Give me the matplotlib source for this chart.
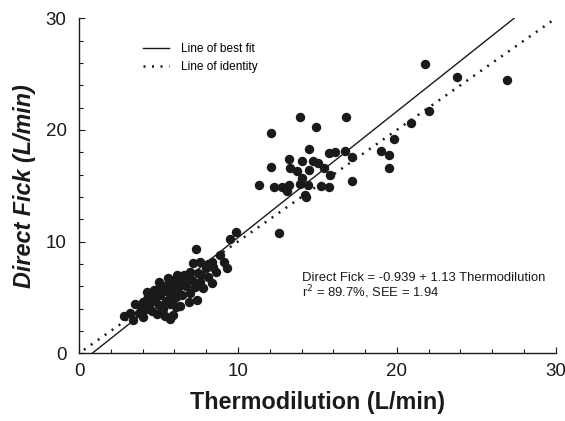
import matplotlib
matplotlib.use("Agg")
import matplotlib.pyplot as plt
import numpy as np
from matplotlib.ticker import MultipleLocator

plt.rcParams['font.family'] = ['Liberation Sans', 'DejaVu Sans']

# low cardiac output cluster
low_x = [2.8, 3.4, 3.5, 3.8, 4.0, 4.2, 4.26, 4.5, 4.6, 4.7, 4.8, 5.0, 5.0, 5.1, 5.2, 5.3,
         5.4, 5.5, 5.6, 5.7, 5.8, 5.9, 6.0, 6.1, 6.15, 6.3, 6.35, 6.5, 6.6, 6.7, 6.9, 7.0,
         7.1, 7.2, 7.36, 7.4, 7.5, 7.6, 7.6, 7.8, 8.0, 8.1, 8.35, 8.35, 8.6, 8.9, 9.1, 9.3,
         4.4, 5.3, 5.8, 6.2, 6.8, 5.6, 3.9, 4.9, 5.9, 6.4, 7.3, 8.4, 4.3, 5.2, 6.0, 3.2,
         9.5, 9.9, 4.6, 5.0, 5.5, 6.1, 6.6, 7.0, 7.7, 8.1, 4.0, 5.7]
low_y = [3.3, 3.0, 4.45, 3.6, 3.2, 4.0, 5.5, 4.6, 3.8, 5.7, 4.9, 6.4, 4.3, 5.2, 3.6, 5.9,
         3.3, 4.7, 5.5, 3.1, 6.2, 4.8, 5.6, 4.1, 7.0, 6.3, 4.2, 5.2, 7.0, 6.0, 4.6, 5.4,
         6.6, 8.06, 9.3, 4.8, 7.2, 6.4, 8.2, 5.8, 7.6, 6.8, 8.2, 6.27, 7.3, 8.8, 8.2, 7.6,
         4.3, 4.0, 5.1, 5.8, 6.8, 6.7, 4.1, 3.5, 3.4, 6.6, 5.9, 7.7, 4.9, 6.0, 6.6, 3.6,
         10.2, 10.9, 5.1, 5.8, 6.0, 5.0, 6.2, 7.3, 7.0, 8.0, 4.6, 4.4]

# high cardiac output cluster
high_x = [21.8, 23.8, 26.95, 22.0, 20.9, 19.8, 19.0, 19.5, 19.5, 17.2, 17.2, 16.75, 16.1,
          15.7, 16.8, 13.9, 14.9, 12.1, 14.5, 12.1, 11.3, 13.2, 14.0, 14.75, 15.05, 13.3,
          13.7, 14.5, 15.4, 15.8, 12.3, 12.75, 13.2, 13.1, 13.9, 14.4, 15.2, 15.7, 14.2,
          14.3, 14.0, 12.6]
high_y = [25.9, 24.7, 24.5, 21.7, 20.6, 19.2, 18.1, 17.75, 16.6, 15.45, 17.6, 18.1, 18.05,
          17.9, 21.15, 21.15, 20.3, 19.7, 18.3, 16.7, 15.1, 17.4, 17.25, 17.2, 17.0, 16.6,
          16.3, 16.4, 16.6, 16.0, 14.9, 14.9, 15.1, 14.5, 15.2, 15.1, 15.0, 14.9, 14.2,
          14.0, 15.7, 10.8]

intercept = -0.939
slope = 1.13

thermo = np.array(low_x + high_x)
fick = np.array(low_y + high_y)

fig = plt.figure(figsize=(5.65, 4.21), dpi=100)
ax = fig.add_axes([0.140, 0.161, 0.8435, 0.7955])

ax.plot(thermo, fick, 'o', color='#1a1a1a', markersize=6.8, markeredgewidth=0, zorder=3)

xfit = np.array([-intercept / slope, (30 - intercept) / slope])
ax.plot(xfit, intercept + slope * xfit, '-', color='#1a1a1a', lw=1.0, label='Line of best fit')
xid = np.array([0.3, 30])
ax.plot(xid, xid, color='#1a1a1a', lw=1.8, linestyle=(0, (0.8, 2.6)), label='Line of identity')

ax.set_xlim(0, 30)
ax.set_ylim(0, 30)
ax.xaxis.set_major_locator(MultipleLocator(10))
ax.yaxis.set_major_locator(MultipleLocator(10))
ax.xaxis.set_minor_locator(MultipleLocator(2))
ax.yaxis.set_minor_locator(MultipleLocator(2))
ax.tick_params(which='both', direction='in', width=0.8, labelsize=13.5, color='#1a1a1a',
               labelcolor='#1a1a1a')
ax.tick_params(which='major', length=4.5)
ax.tick_params(which='minor', length=3)
ax.tick_params(axis='x', pad=7)
ax.tick_params(axis='y', pad=9)
for s in ['top', 'right']:
    ax.spines[s].set_visible(False)
for s in ['left', 'bottom']:
    ax.spines[s].set_linewidth(1.0)
    ax.spines[s].set_color('#1a1a1a')

ax.set_xlabel('Thermodilution (L/min)', fontsize=16.8, fontweight='bold', color='#1a1a1a', labelpad=8)
ax.set_ylabel('Direct Fick (L/min)', fontsize=16.8, fontweight='bold', fontstyle='italic',
              color='#1a1a1a', labelpad=7)

ax.legend(loc='upper left', bbox_to_anchor=(0.134, 0.925), frameon=False, borderpad=0,
          borderaxespad=0, handlelength=2.2, handletextpad=1.0, labelspacing=0.45, fontsize=8.6)

ax.text(14.0, 6.5, 'Direct Fick = -0.939 + 1.13 Thermodilution', fontsize=9.4, va='baseline',
        color='#1a1a1a')
ax.text(14.0, 5.05, 'r$^2$ = 89.7%, SEE = 1.94', fontsize=9.4, va='baseline', color='#1a1a1a')

fig.savefig('out.png', dpi=100)
